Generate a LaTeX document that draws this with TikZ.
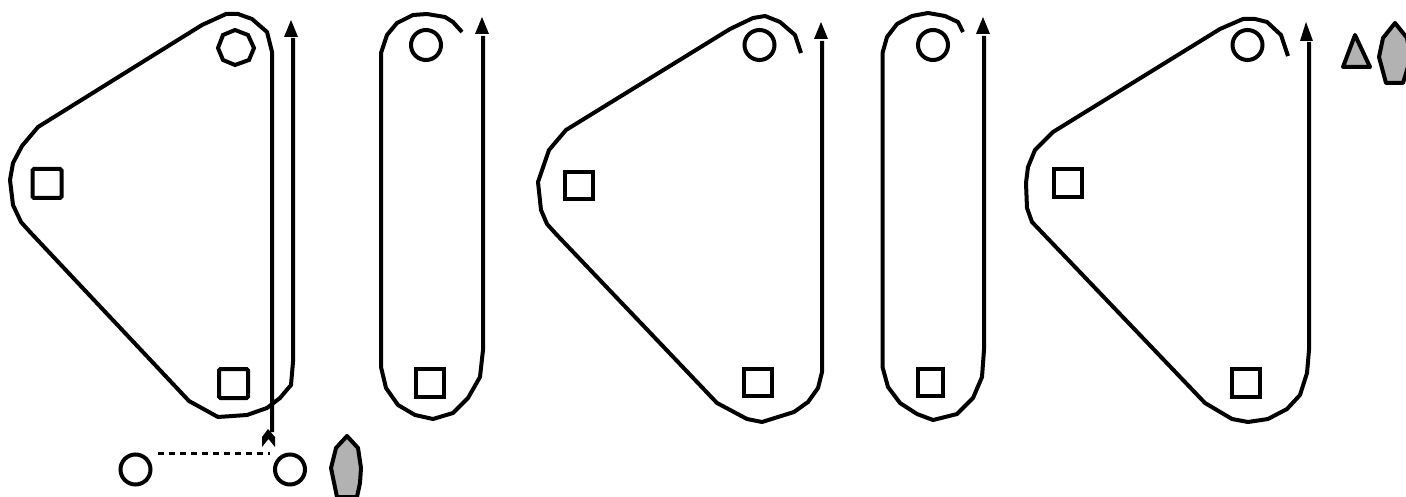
\documentclass[tikz,border=0pt]{standalone}
\tikzset{
  belt/.style={line width=4pt,line join=round,line cap=butt},
  hole/.style={line width=4pt,line join=miter},
  roundhole/.style={line width=4pt,rounded corners=1.5pt},
  ring/.style={line width=4pt},
  head/.style={fill=black,draw=none},
  boat/.style={fill=black!30,draw=black,line width=4pt,line join=round},
}
\begin{document}
\begin{tikzpicture}[x=1pt,y=-1pt]
\clip (0,0) rectangle (1406,497);
% belt 1
\draw[belt] (293,38) -- (293,362) -- (291,385) -- (280,398) -- (267,408) -- (247,415) -- (218,417) -- (189,401) -- (30,232) -- (21,222) -- (13,205) -- (10,180) -- (13,163) -- (22,146) -- (38,127) -- (202,25) -- (226,14) -- (238,14) -- (252,19) -- (267,32) -- (272,52) -- (272,432);
\fill[head] (284,37) -- (291,20) -- (298,37) -- cycle;
\fill[head] (268,429) -- (275,437) -- (275,447) -- (268.5,439) -- (262,447) -- (262,437) -- cycle;
\draw[hole] (235,30) -- (248,35) -- (254,48) -- (249,60) -- (235,65) -- (223,60) -- (218,48) -- (223,35) -- cycle;
\draw[roundhole] (32.5,169) rectangle (61.5,198);
\draw[roundhole] (219,369) rectangle (248,398);
\draw[ring] (135.5,469.5) circle (15);
\draw[ring] (290,469.5) circle (15);
\draw[line width=3pt,dash pattern=on 6pt off 5pt] (158,453) -- (270,453);
\draw[boat] (347,436) -- (358,448) -- (361,468) -- (360,483) -- (357,497) -- (337,497) -- (331,468) -- (336,448) -- cycle;
% belt 2
\draw[belt] (462,32) -- (453,22) -- (445,17) -- (427,14) -- (413,15) -- (397,23) -- (387,35) -- (381,53) -- (381,367) -- (386,388) -- (398,405) -- (415,415) -- (433,419) -- (453,413) -- (468,398) -- (480,377) -- (483,350) -- (483,36);
\fill[head] (475,34) -- (482,17) -- (489,34) -- cycle;
\draw[ring] (426,45) circle (15);
\draw[hole] (416,369) rectangle (444,397);
% belt 3
\draw[belt] (801,53) -- (795,35) -- (780,22) -- (765,16) -- (753,18) -- (730,29) -- (566,130) -- (549,150) -- (538,182) -- (541,210) -- (547,224) -- (556,234) -- (717,403) -- (747,419) -- (762,422) -- (794,412) -- (808,402) -- (818,388) -- (822,372) -- (822,41);
\fill[head] (814,39) -- (821,22) -- (828,39) -- cycle;
\draw[ring] (759.5,45) circle (15);
\draw[hole] (565,172) rectangle (593,199);
\draw[hole] (744,369) rectangle (772,396);
% belt 4
\draw[belt] (963,32) -- (958,22) -- (945,16) -- (928,13) -- (912,16) -- (897,24) -- (887,37) -- (882.5,53) -- (882.5,367) -- (888,387) -- (900,403) -- (917,414) -- (933,420) -- (957,414) -- (973,398) -- (982,377) -- (984,350) -- (984,36);
\fill[head] (976,34) -- (983,17) -- (990,34) -- cycle;
\draw[ring] (933,45) circle (15);
\draw[hole] (918,369) rectangle (943,396);
% belt 5
\draw[belt] (1288,56) -- (1281,35) -- (1267,22) -- (1255,19) -- (1243,19) -- (1220,29) -- (1053,132) -- (1035,150) -- (1028,167) -- (1026,183) -- (1027,208) -- (1032,222) -- (1205,403) -- (1232,419) -- (1248,422) -- (1268,419) -- (1287,409) -- (1300,395) -- (1307,373) -- (1309,350) -- (1309,42);
\fill[head] (1300,41) -- (1306,22) -- (1313,41) -- cycle;
\draw[ring] (1247.5,45) circle (15);
\draw[hole] (1054,169) rectangle (1082,197);
\draw[hole] (1232,369) rectangle (1260,397);
\draw[boat] (1355,35) -- (1343,67) -- (1370,67) -- cycle;
\draw[boat] (1395,23) -- (1383,38) -- (1379,57) -- (1386,83) -- (1403,83) -- (1411,57) -- (1407,38) -- cycle;
\end{tikzpicture}
\end{document}
